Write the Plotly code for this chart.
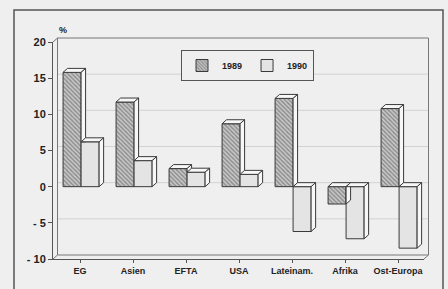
import plotly.graph_objects as go

categories = ["EG", "Asien", "EFTA", "USA", "Lateinam.", "Afrika", "Ost-Europa"]
v1989 = [15.8, 11.7, 2.5, 8.7, 12.2, -2.4, 10.8]
v1990 = [6.2, 3.6, 2.0, 1.7, -6.2, -7.2, -8.5]
y_ticks = [-10, -5, 0, 5, 10, 15, 20]
y_ticktext = ["- 10", "- 5", "0", "5", "10", "15", "20"]

W, H = 448, 289
ML, MR, MT, MB = 53, 24, 42, 30
PW, PH = W - ML - MR, H - MT - MB
YMIN, YMAX = -10, 20
XMIN, XMAX = -0.51, 6.49
xunit = PW / (XMAX - XMIN)
yunit = PH / (YMAX - YMIN)
DPX = 4.5  # depth in pixels
dx = DPX / xunit
dy = 4 / yunit
BW = 0.34
OFF89, OFF90 = -0.32, 0.02

LINE = "#3a3a3a"
BG = "#efefef"
FACE = "#f7f7f7"
C90 = "#e4e4e4"

xs = list(range(len(categories)))
fig = go.Figure()

# Front faces
fig.add_trace(go.Bar(
    x=xs, y=v1989, width=BW, offset=OFF89, name="1989",
    marker=dict(color="#b0b0b0", line=dict(color=LINE, width=1),
                pattern=dict(shape="\\", fgcolor="#4a4a4a", bgcolor="#c8c8c8", size=3, solidity=0.45)),
))
fig.add_trace(go.Bar(
    x=xs, y=v1990, width=BW, offset=OFF90, name="1990",
    marker=dict(color=C90, line=dict(color=LINE, width=1)),
))


def poly(px, py):
    fig.add_trace(go.Scatter(x=px + [px[0]], y=py + [py[0]], mode="lines", fill="toself",
                             fillcolor=FACE, line=dict(color=LINE, width=1),
                             showlegend=False, hoverinfo="skip"))


for i in xs:
    a, b = v1989[i], v1990[i]
    # 1989 top and side
    x0 = i + OFF89
    x1 = x0 + BW
    t = max(a, 0)
    lo = min(a, 0)
    poly([x0, x1, x1 + dx, x0 + dx], [t, t, t + dy, t + dy])
    # visible part of side, clipped by 1990 front face
    clip = max(b, lo) if b > 0 else lo
    if clip < t:
        poly([x1, x1, x1 + dx, x1 + dx], [clip, t, t + dy, clip + (dy if clip == lo and b <= 0 else 0)])
    # 1990 top and side
    x0 = i + OFF90
    x1 = x0 + BW
    t = max(b, 0)
    lo = min(b, 0)
    poly([x0, x1, x1 + dx, x0 + dx], [t, t, t + dy, t + dy])
    poly([x1, x1, x1 + dx, x1 + dx], [lo, t, t + dy, lo + dy])

shapes = []
# outer frame
shapes.append(dict(type="rect", xref="paper", yref="paper",
                   x0=(14 - ML) / PW, x1=(443 - ML) / PW,
                   y0=-0.25, y1=(H - MB - 10) / PH,
                   line=dict(color="#555", width=1.5), layer="below"))
bx = DPX / PW
by = 4 / PH
# back wall gridlines
for tv in y_ticks[1:-1]:
    shapes.append(dict(type="line", xref="paper", yref="y", x0=bx, x1=1 + bx,
                       y0=tv + dy, y1=tv + dy, line=dict(color="#d2d2d2", width=1), layer="below"))
# back wall frame
shapes.append(dict(type="rect", xref="paper", yref="paper", x0=bx, x1=1 + bx, y0=by, y1=1 + by,
                   line=dict(color="#777", width=1), layer="below"))
# depth connectors
for (px, py) in [(0, 0), (0, 1), (1, 0)]:
    shapes.append(dict(type="line", xref="paper", yref="paper", x0=px, x1=px + bx, y0=py, y1=py + by,
                       line=dict(color="#777", width=1), layer="below"))

fig.update_layout(
    width=W, height=H,
    margin=dict(l=ML, r=MR, t=MT, b=MB),
    paper_bgcolor=BG, plot_bgcolor="rgba(0,0,0,0)",
    barmode="overlay",
    showlegend=True,
    legend=dict(orientation="h", x=(181 - ML) / PW, y=(H - MB - 50) / PH,
                xanchor="left", yanchor="top",
                bgcolor=BG, bordercolor="#555", borderwidth=1,
                font=dict(family="Arial, Liberation Sans", size=9, color="#222", weight="bold"),
                itemwidth=30),
    font=dict(family="Arial, Liberation Sans", color="#222"),
    shapes=shapes,
    annotations=[dict(text="<b>%</b>", xref="paper", yref="paper",
                      x=(57 - ML) / PW, y=(H - MB - 23) / PH, showarrow=False,
                      font=dict(size=9, color="#222"))],
    xaxis=dict(range=[XMIN, XMAX], tickvals=xs, ticktext=["<b>%s</b>" % c for c in categories],
               showgrid=False, zeroline=False, showline=True, linecolor="#555", linewidth=1,
               ticks="outside", ticklen=3, tickcolor="#555", tickfont=dict(size=9)),
    yaxis=dict(range=[YMIN, YMAX], tickvals=y_ticks, ticktext=["<b>%s</b>" % t for t in y_ticktext],
               showgrid=False, zeroline=False, showline=True, linecolor="#555", linewidth=1,
               ticks="outside", ticklen=4, tickcolor="#555", tickfont=dict(size=11)),
)

fig.write_html("out.html", config={"displayModeBar": False},
               post_script="document.body.style.margin='0';document.body.style.overflow='hidden';")
